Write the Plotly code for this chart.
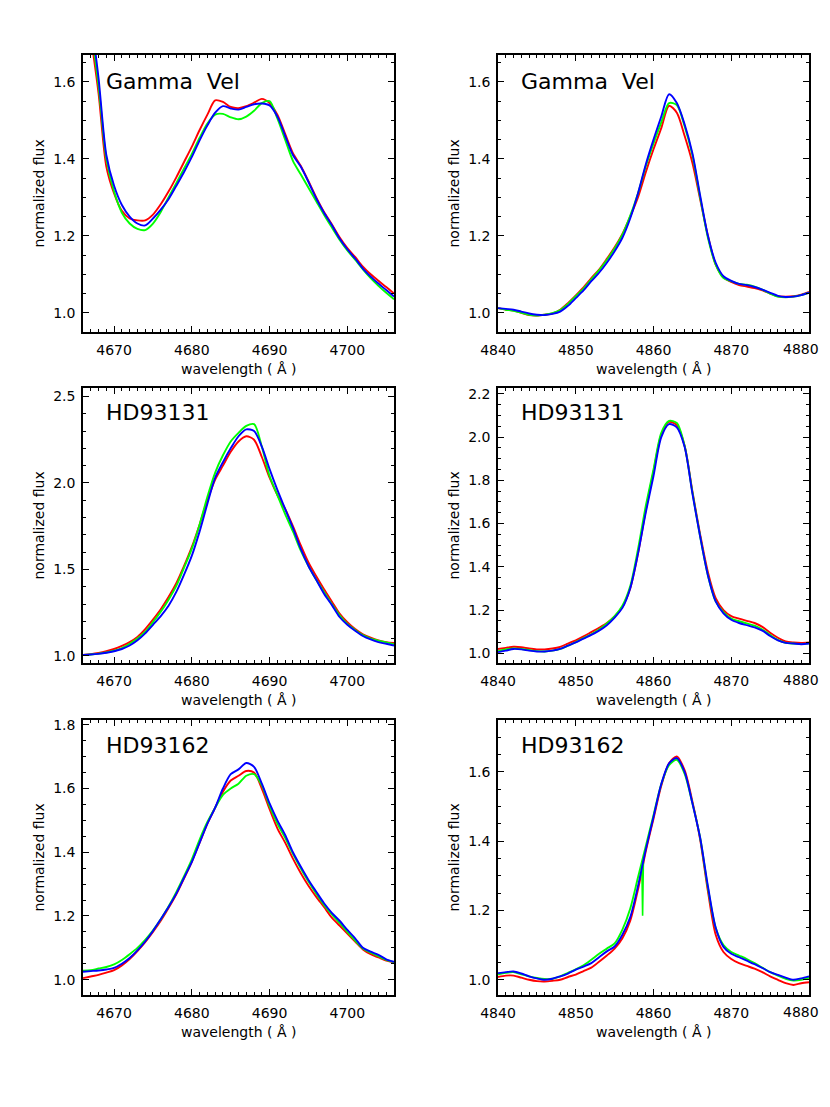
import plotly.graph_objects as go

# wavelength grids (Angstrom)
wl_he = list(range(4666, 4707))
wl_hb = list(range(4840, 4881))

# Gamma Vel, He II 4686
gv_he_red = [1.86, 1.72, 1.57, 1.38, 1.31, 1.265, 1.245, 1.24, 1.24, 1.255, 1.282, 1.315, 1.352, 1.392, 1.432,
             1.475, 1.515, 1.552, 1.548, 1.535, 1.532, 1.537, 1.546, 1.556, 1.545, 1.515, 1.465, 1.415, 1.382,
             1.342, 1.30, 1.262, 1.23, 1.196, 1.168, 1.145, 1.12, 1.10, 1.083, 1.067, 1.05]
gv_he_green = [1.85, 1.74, 1.59, 1.40, 1.315, 1.26, 1.232, 1.218, 1.215, 1.232, 1.262, 1.30, 1.337, 1.375, 1.413,
               1.455, 1.492, 1.515, 1.517, 1.508, 1.503, 1.51, 1.525, 1.545, 1.55, 1.505, 1.45, 1.395, 1.36,
               1.325, 1.29, 1.255, 1.222, 1.19, 1.162, 1.138, 1.113, 1.09, 1.07, 1.052, 1.035]
gv_he_blue = [1.92, 1.77, 1.61, 1.41, 1.33, 1.28, 1.25, 1.232, 1.227, 1.245, 1.268, 1.295, 1.33, 1.366, 1.405,
              1.448, 1.487, 1.52, 1.537, 1.531, 1.528, 1.535, 1.542, 1.544, 1.539, 1.51, 1.46, 1.41, 1.38,
              1.34, 1.297, 1.26, 1.228, 1.193, 1.165, 1.141, 1.115, 1.094, 1.076, 1.059, 1.042]

# Gamma Vel, H beta
gv_hb_red = [1.012, 1.008, 1.006, 1.0, 0.994, 0.993, 0.995, 0.998, 1.008, 1.025, 1.045, 1.066, 1.09, 1.112, 1.14,
             1.17, 1.205, 1.25, 1.30, 1.365, 1.425, 1.48, 1.538, 1.52, 1.46, 1.39, 1.295, 1.20, 1.125, 1.092,
             1.08, 1.072, 1.068, 1.064, 1.058, 1.05, 1.043, 1.042, 1.043, 1.047, 1.054]
gv_hb_green = [1.012, 1.008, 1.005, 1.0, 0.995, 0.993, 0.995, 0.999, 1.007, 1.023, 1.043, 1.063, 1.087, 1.11, 1.137,
               1.167, 1.203, 1.252, 1.31, 1.38, 1.44, 1.495, 1.545, 1.54, 1.485, 1.41, 1.30, 1.195, 1.125, 1.09,
               1.082, 1.075, 1.073, 1.068, 1.06, 1.05, 1.042, 1.04, 1.042, 1.046, 1.052]
gv_hb_blue = [1.012, 1.010, 1.008, 1.003, 0.998, 0.995, 0.994, 0.997, 1.003, 1.018, 1.038, 1.058, 1.082, 1.104, 1.13,
              1.16, 1.195, 1.245, 1.31, 1.385, 1.45, 1.51, 1.568, 1.545, 1.49, 1.415, 1.305, 1.20, 1.13, 1.095,
              1.083, 1.075, 1.072, 1.067, 1.06, 1.052, 1.044, 1.041, 1.042, 1.046, 1.052]

# HD93131, He II 4686
hd131_he_red = [1.005, 1.01, 1.017, 1.027, 1.04, 1.058, 1.08, 1.11, 1.155, 1.21, 1.27, 1.34, 1.42, 1.52, 1.63,
                1.76, 1.90, 2.02, 2.10, 2.18, 2.24, 2.27, 2.25, 2.15, 2.03, 1.93, 1.85, 1.75, 1.64, 1.54,
                1.46, 1.385, 1.315, 1.245, 1.195, 1.155, 1.125, 1.105, 1.09, 1.08, 1.075]
hd131_he_green = [1.005, 1.008, 1.013, 1.02, 1.03, 1.045, 1.07, 1.10, 1.14, 1.195, 1.255, 1.325, 1.405, 1.51, 1.62,
                  1.76, 1.92, 2.06, 2.16, 2.24, 2.29, 2.33, 2.34, 2.21, 2.04, 1.93, 1.82, 1.72, 1.61, 1.52,
                  1.44, 1.37, 1.30, 1.235, 1.185, 1.15, 1.12, 1.10, 1.088, 1.078, 1.068]
hd131_he_blue = [1.005, 1.008, 1.012, 1.018, 1.027, 1.04, 1.06, 1.09, 1.13, 1.18, 1.23, 1.29, 1.37, 1.47, 1.58,
                 1.72, 1.88, 2.03, 2.12, 2.20, 2.27, 2.31, 2.30, 2.21, 2.08, 1.96, 1.85, 1.74, 1.62, 1.52,
                 1.44, 1.36, 1.295, 1.225, 1.18, 1.145, 1.115, 1.095, 1.08, 1.07, 1.06]

# HD93131, H beta
hd131_hb_red = [1.02, 1.025, 1.03, 1.028, 1.022, 1.018, 1.018, 1.022, 1.03, 1.045, 1.06, 1.078, 1.098, 1.118, 1.14,
                1.17, 1.215, 1.30, 1.46, 1.66, 1.84, 2.01, 2.07, 2.055, 1.96, 1.75, 1.55, 1.375, 1.255, 1.2,
                1.172, 1.16, 1.15, 1.14, 1.122, 1.095, 1.072, 1.055, 1.05, 1.048, 1.05]
hd131_hb_green = [1.01, 1.018, 1.022, 1.02, 1.015, 1.01, 1.008, 1.012, 1.02, 1.035, 1.052, 1.07, 1.088, 1.11, 1.138,
                  1.172, 1.22, 1.31, 1.48, 1.68, 1.85, 2.02, 2.075, 2.065, 1.96, 1.745, 1.54, 1.36, 1.24, 1.19,
                  1.16, 1.148, 1.138, 1.128, 1.11, 1.085, 1.062, 1.048, 1.045, 1.043, 1.046]
hd131_hb_blue = [1.005, 1.012, 1.02, 1.018, 1.012, 1.008, 1.008, 1.012, 1.02, 1.035, 1.05, 1.068, 1.085, 1.105, 1.13,
                 1.165, 1.21, 1.30, 1.46, 1.65, 1.82, 2.00, 2.06, 2.045, 1.955, 1.74, 1.54, 1.36, 1.24, 1.185,
                 1.155, 1.14, 1.13, 1.12, 1.105, 1.08, 1.06, 1.048, 1.045, 1.042, 1.045]

# HD93162, He II 4686
hd162_he_red = [1.005, 1.01, 1.015, 1.022, 1.03, 1.045, 1.065, 1.09, 1.118, 1.15, 1.185, 1.225, 1.268, 1.318, 1.37,
                1.43, 1.49, 1.54, 1.59, 1.625, 1.64, 1.655, 1.65, 1.60, 1.535, 1.475, 1.43, 1.38, 1.335, 1.295,
                1.26, 1.228, 1.195, 1.17, 1.145, 1.12, 1.095, 1.08, 1.07, 1.06, 1.055]
hd162_he_green = [1.028, 1.03, 1.035, 1.04, 1.048, 1.062, 1.08, 1.1, 1.125, 1.155, 1.19, 1.23, 1.275, 1.325, 1.378,
                  1.44, 1.495, 1.54, 1.58, 1.6, 1.615, 1.64, 1.645, 1.61, 1.545, 1.49, 1.445, 1.395, 1.35, 1.308,
                  1.27, 1.235, 1.205, 1.178, 1.15, 1.123, 1.098, 1.085, 1.074, 1.062, 1.055]
hd162_he_blue = [1.025, 1.027, 1.029, 1.032, 1.037, 1.05, 1.068, 1.092, 1.12, 1.153, 1.19, 1.228, 1.27, 1.32, 1.37,
                 1.43, 1.49, 1.54, 1.60, 1.645, 1.66, 1.68, 1.668, 1.615, 1.553, 1.50, 1.454, 1.40, 1.355, 1.313,
                 1.276, 1.24, 1.21, 1.185, 1.156, 1.13, 1.10, 1.088, 1.078, 1.064, 1.056]

# HD93162, H beta
hd162_hb_red = [1.008, 1.012, 1.012, 1.006, 1.0, 0.996, 0.995, 0.997, 1.0, 1.008, 1.015, 1.025, 1.035, 1.052, 1.07,
                1.09, 1.12, 1.17, 1.26, 1.37, 1.465, 1.56, 1.625, 1.645, 1.605, 1.515, 1.405, 1.255, 1.13, 1.08,
                1.06, 1.048, 1.04, 1.032, 1.022, 1.01, 1.0, 0.99, 0.985, 0.99, 0.993]
hd162_hb_green = [1.016, 1.02, 1.022, 1.016, 1.01, 1.005, 1.002, 1.003, 1.01, 1.02, 1.03, 1.042, 1.058, 1.075, 1.09,
                  1.105, 1.145, 1.205, 1.295, 1.385, 1.475, 1.565, 1.62, 1.635, 1.595, 1.51, 1.41, 1.265, 1.15, 1.1,
                  1.08, 1.07, 1.06, 1.048, 1.035, 1.022, 1.012, 1.003, 0.998, 1.0, 1.006]
hd162_hb_blue = [1.019, 1.022, 1.024, 1.018, 1.01, 1.004, 1.0, 1.003, 1.01, 1.018, 1.029, 1.038, 1.048, 1.065, 1.082,
                 1.096, 1.13, 1.18, 1.27, 1.375, 1.47, 1.565, 1.625, 1.64, 1.60, 1.51, 1.41, 1.27, 1.15, 1.095,
                 1.075, 1.065, 1.055, 1.045, 1.034, 1.022, 1.014, 1.006, 1.0, 1.004, 1.01]
# narrow glitch in the green HD93162 H beta spectrum
hd162_hb_green_spike_wl = [4858.5, 4858.6, 4858.7]
hd162_hb_green_spike = [1.335, 1.185, 1.34]

star_names = ["Gamma  Vel", "Gamma  Vel", "HD93131", "HD93131", "HD93162", "HD93162"]

panels = [
    (wl_he, gv_he_red, gv_he_green, gv_he_blue, [4666, 4706], [0.95, 1.67], 0.2, 0.05),
    (wl_hb, gv_hb_red, gv_hb_green, gv_hb_blue, [4840, 4880], [0.95, 1.67], 0.2, 0.05),
    (wl_he, hd131_he_red, hd131_he_green, hd131_he_blue, [4666, 4706], [0.959, 2.549], 0.5, 0.1),
    (wl_hb, hd131_hb_red, hd131_hb_green, hd131_hb_blue, [4840, 4880], [0.955, 2.227], 0.2, 0.05),
    (wl_he, hd162_he_red, hd162_he_green, hd162_he_blue, [4666, 4706], [0.952, 1.815], 0.2, 0.05),
    (wl_hb, hd162_hb_red, hd162_hb_green, hd162_hb_blue, [4840, 4880], [0.956, 1.75], 0.2, 0.05),
]

# page geometry: the plot div sits 8 px in from the window edge
W, H, OFF = 822, 1091, 8


def px(x):
    return (x - OFF) / W


def py(y):
    return 1 - (y - OFF) / H


col_px = [(83, 394), (498, 809)]
row_px = [(55, 332), (388, 663), (720, 995)]

FONT = "DejaVu Sans"
fig = go.Figure()
annotations = []
layout = {}

for i, (wl, red, green, blue, xr, yr, dy, mdy) in enumerate(panels):
    n = i + 1
    xa = "x" if n == 1 else f"x{n}"
    ya = "y" if n == 1 else f"y{n}"
    col, row = i % 2, i // 2
    left, right = col_px[col]
    top, bottom = row_px[row]
    for spec, colr in [(red, "#ff0000"), (green, "#00ff00"), (blue, "#0000ff")]:
        if spec is blue and n == 6:
            fig.add_trace(go.Scatter(x=hd162_hb_green_spike_wl, y=hd162_hb_green_spike, mode="lines",
                                     line=dict(color="#00ff00", width=1.6), xaxis=xa, yaxis=ya,
                                     showlegend=False))
        fig.add_trace(go.Scatter(x=wl, y=spec, mode="lines",
                                 line=dict(color=colr, width=1.9, shape="spline", smoothing=0.8),
                                 xaxis=xa, yaxis=ya, showlegend=False))

    common = dict(showline=True, linecolor="black", linewidth=1.5, mirror="allticks",
                  ticks="inside", ticklen=6, tickwidth=1.2, tickcolor="black",
                  showgrid=False, zeroline=False, automargin=False, ticklabeloverflow="allow",
                  tickfont=dict(family=FONT, size=14, color="black"))
    xaxis = dict(
        domain=[px(left), px(right)], range=xr, dtick=10, tick0=4640, anchor=ya,
        minor=dict(dtick=1, ticks="inside", ticklen=3, tickwidth=1, tickcolor="black"),
        ticklabelstandoff=4, **common)
    if col == 1:
        # last label sits at the window edge; drawn as an annotation pulled inside
        xaxis["labelalias"] = {"4880": " "}
        annotations.append(dict(text=str(xr[1]), xref="paper", yref="paper",
                                x=px(821), y=py(bottom + 17), xanchor="right", yanchor="middle",
                                showarrow=False, font=dict(family=FONT, size=14, color="black")))
    layout["xaxis" if n == 1 else f"xaxis{n}"] = xaxis
    layout["yaxis" if n == 1 else f"yaxis{n}"] = dict(
        domain=[py(bottom), py(top)], range=yr, dtick=dy, tick0=1.0, anchor=xa, tickformat=".1f",
        minor=dict(dtick=mdy, ticks="inside", ticklen=3, tickwidth=1, tickcolor="black"),
        ticklabelstandoff=3, **common)

    label_cy = [81.5, 413, 745.5][row]
    annotations.append(dict(text=star_names[i], xref="paper", yref="paper",
                            x=px(left + 21), y=py(label_cy), xanchor="left", yanchor="middle",
                            showarrow=False, font=dict(family=FONT, size=22, color="black")))
    annotations.append(dict(text="normalized flux", xref="paper", yref="paper",
                            x=px(left - 45), y=py((top + bottom) / 2), textangle=-90,
                            xanchor="center", yanchor="middle", showarrow=False,
                            font=dict(family=FONT, size=14, color="black")))
    annotations.append(dict(text="wavelength ( Å )", xref="paper", yref="paper",
                            x=px((left + right) / 2), y=py(bottom + 37),
                            xanchor="center", yanchor="middle", showarrow=False,
                            font=dict(family=FONT, size=14, color="black")))

fig.update_layout(
    width=W, height=H,
    margin=dict(l=0, r=0, t=0, b=0),
    paper_bgcolor="white", plot_bgcolor="white",
    annotations=annotations,
    **layout,
)

fig.write_html("out.html")
